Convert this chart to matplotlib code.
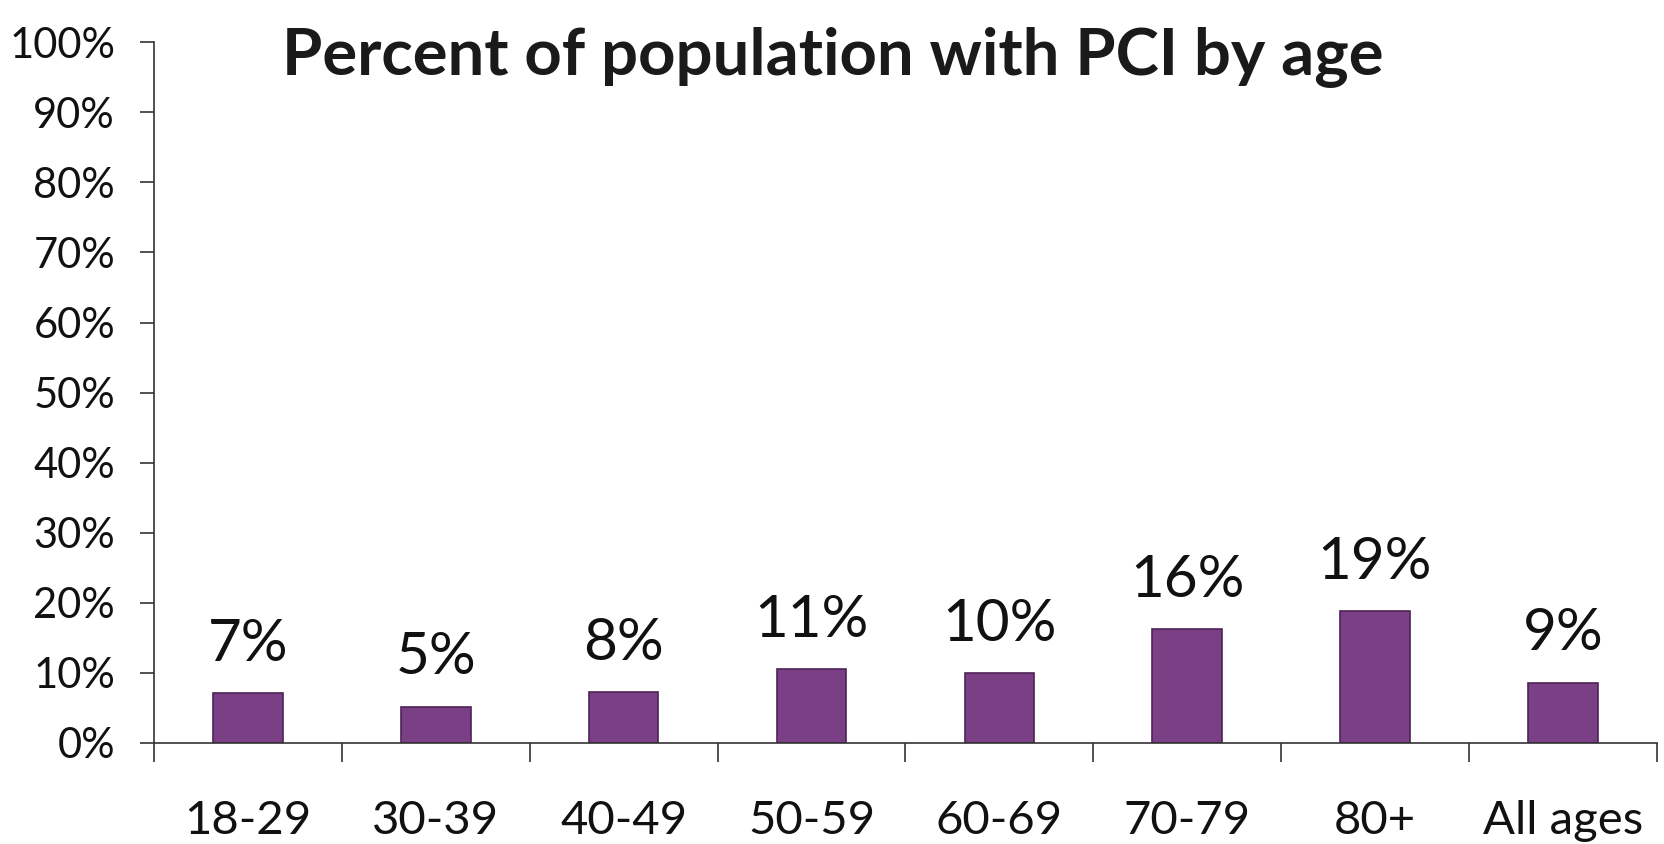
import matplotlib
matplotlib.use("Agg")
import matplotlib.pyplot as plt
from matplotlib.ticker import FixedLocator, PercentFormatter
import numpy as np

categories = ["18-29", "30-39", "40-49", "50-59", "60-69", "70-79", "80+", "All ages"]
values = [7.1, 5.2, 7.3, 10.5, 10.0, 16.2, 18.8, 8.6]
labels = ["7%", "5%", "8%", "11%", "10%", "16%", "19%", "9%"]
yticks = [0, 10, 20, 30, 40, 50, 60, 70, 80, 90, 100]

plt.rcParams['font.family'] = ['Lato', 'DejaVu Sans']

fig = plt.figure(figsize=(16.65, 8.44), dpi=100)
ax = fig.add_axes([0.0925, 0.1197, 0.9025, 0.8303])

x = np.arange(len(categories))
bars = ax.bar(x, values, width=0.37, color="#7b3f85", edgecolor="#4f2358", linewidth=1.2)

for xi, v, lab in zip(x, values, labels):
    ax.annotate(lab, (xi, v), xytext=(0, 16), textcoords="offset points",
                ha="center", va="bottom", fontsize=42, color="#111111")

ax.set_xlim(-0.5, len(categories) - 0.5)
ax.set_ylim(0, 100)
ax.set_yticks(yticks)
ax.yaxis.set_major_formatter(PercentFormatter(decimals=0))
ax.tick_params(axis="y", length=10, width=1.2, pad=18, labelsize=30, color="#333333", labelcolor="#111111")

ax.xaxis.set_major_locator(FixedLocator(np.arange(-0.5, len(categories), 1.0)))
ax.xaxis.set_major_formatter(plt.NullFormatter())
ax.xaxis.set_minor_locator(FixedLocator(x))
ax.set_xticks(x, minor=True)
ax.set_xticklabels(categories, minor=True)
ax.tick_params(axis="x", which="major", length=14, width=1.2, color="#333333")
ax.tick_params(axis="x", which="minor", length=0, pad=41, labelsize=34, labelcolor="#111111")

for s in ["top", "right"]:
    ax.spines[s].set_visible(False)
for s in ["left", "bottom"]:
    ax.spines[s].set_linewidth(1.2)
    ax.spines[s].set_color("#333333")

fig.text(0.5, 0.932, "Percent of population with PCI by age", ha="center", va="center",
         fontsize=47, fontweight="bold", color="#1a1a1a")

fig.savefig("out.png", dpi=100)
